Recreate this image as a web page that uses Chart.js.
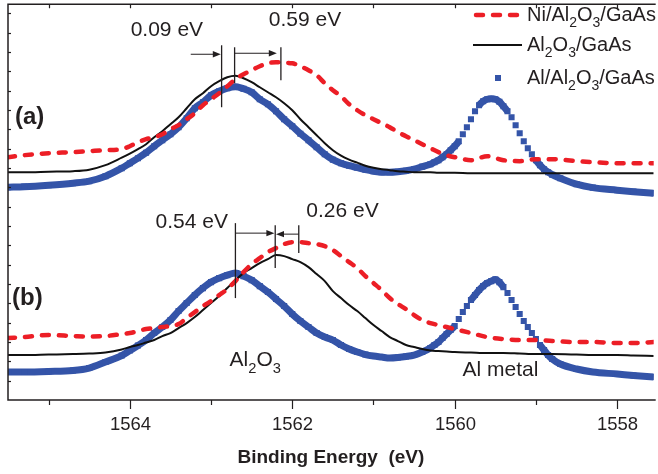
<!DOCTYPE html>
<html>
<head>
<meta charset="utf-8">
<script src="https://cdn.jsdelivr.net/npm/chart.js@4.4.1/dist/chart.umd.min.js"></script>
<style>
  html, body { margin: 0; padding: 0; background: #fff; }
  #wrap { width: 658px; height: 474px; position: relative; }
</style>
</head>
<body>
<div id="wrap"><canvas id="xps"></canvas></div>
<script>
// binding energy grid (eV) shared by the two line spectra
const energy = [1565.5, 1565.3, 1565.0, 1564.7, 1564.5, 1564.3, 1564.1,
  1564.0, 1563.9, 1563.8, 1563.7, 1563.6, 1563.5, 1563.4, 1563.3, 1563.2, 1563.1,
  1563.0, 1562.9, 1562.8, 1562.7, 1562.6, 1562.5, 1562.4, 1562.3, 1562.2, 1562.1,
  1562.0, 1561.9, 1561.8, 1561.7, 1561.6, 1561.5, 1561.4, 1561.3, 1561.2, 1561.1,
  1561.0, 1560.9, 1560.8, 1560.7, 1560.6, 1560.5, 1560.4, 1560.3, 1560.2, 1560.1,
  1560.0, 1559.8, 1559.6, 1559.4, 1559.2, 1559.0, 1558.8, 1558.5, 1558.3, 1558.0,
  1557.8, 1557.55];

// energy grid of the Al/Al2O3/GaAs square markers (finer across the Al metal peak)
const energyAl = [1565.5, 1565.3, 1565.0, 1564.7, 1564.5, 1564.3, 1564.1,
  1564.0, 1563.9, 1563.8, 1563.7, 1563.6, 1563.5, 1563.4, 1563.3, 1563.2, 1563.1,
  1563.0, 1562.9, 1562.8, 1562.7, 1562.6, 1562.5, 1562.4, 1562.3, 1562.2, 1562.1,
  1562.0, 1561.9, 1561.8, 1561.7, 1561.6, 1561.5, 1561.4, 1561.3, 1561.2, 1561.1,
  1561.0, 1560.9, 1560.8, 1560.7, 1560.6, 1560.5, 1560.4, 1560.3,
  1560.25, 1560.2, 1560.15, 1560.1, 1560.05, 1560.0, 1559.95, 1559.9, 1559.85, 1559.8,
  1559.75, 1559.7, 1559.65, 1559.6, 1559.55, 1559.5, 1559.45, 1559.4, 1559.35, 1559.3,
  1559.25, 1559.2, 1559.15, 1559.1, 1559.05, 1559.0, 1558.95, 1558.9, 1558.85, 1558.8,
  1558.7, 1558.5, 1558.3, 1558.0, 1557.8, 1557.55];

// (a) spectra, intensity in arbitrary offset units
const niA = [243, 245, 247, 248, 249, 250, 251, 254, 258, 261, 263, 266, 271, 275, 281, 287, 295,
  301, 307, 314, 321, 326, 330, 334, 337, 338, 337.5, 337, 334, 330, 325, 317, 310, 304, 296, 290,
  285, 281, 277, 273, 268, 264, 260, 256, 252, 248, 245, 243, 240, 244, 240, 239, 241, 241, 239,
  238, 237, 237, 237];
const oxA = [228, 228, 228.5, 229, 230.5, 235, 242.5, 246.5, 251, 256, 263, 269, 276, 283, 292, 301,
  307, 314, 319, 323, 324.5, 322, 318, 313, 308, 303, 297, 290, 281, 273, 265, 257, 250, 244.5, 240.5,
  237.5, 234.5, 232.5, 231, 230, 229, 228.5, 228, 228, 228, 227.5, 227.5, 227.5, 227, 227, 227, 227,
  227, 227, 227, 227, 227, 227, 227];
const alA = [213, 213.5, 215, 217, 219, 224, 232, 237, 242, 247.5, 254, 260, 266, 273, 282, 292, 298,
  305, 309, 312, 313.5, 311.5, 308, 301, 296, 289, 281, 274, 266.5, 260, 253, 246, 240.5, 237, 234.5,
  232.5, 230.5, 229, 228, 228, 228.5, 229.5, 231, 233.5, 236,
  238, 240, 243, 246, 250, 254, 259, 266, 273, 281, 289, 295, 299, 301, 301.5, 301, 298.5, 294, 289,
  283, 275, 267, 259, 252, 246, 240, 235, 231, 228, 225.5,
  222, 216, 212.5, 210, 208.5, 207];

// (b) spectra
const niB = [62, 63, 65, 64, 63.5, 64, 66, 67, 69, 71, 72, 73, 74, 76, 82, 88, 94, 99, 105, 111, 119,
  128, 136, 142, 148, 152, 156, 158, 158, 157, 156, 154, 150, 144, 138, 132, 124, 117, 110, 102, 96,
  91, 85, 80, 77, 75, 73, 71, 67, 63, 61, 60, 60, 59, 58, 58, 57, 57, 58];
const oxB = [45, 45, 45.5, 46, 46.5, 47.5, 50.5, 53, 55, 57.5, 60, 64, 67, 72, 77, 83, 90, 97, 104, 112,
  120, 127, 132, 137, 141, 145, 144, 141, 138, 133, 126, 119, 109, 102, 95, 89, 82, 75, 69, 63, 59,
  55, 53, 51, 49.5, 49, 48.5, 48, 47.5, 47, 47, 46.5, 46, 46, 45.5, 45, 45, 44.5, 44];
const alB = [28, 28, 28.5, 29.5, 32, 38, 44.5, 49.5, 54.5, 60, 67, 73, 80, 89, 97, 105, 112, 118, 122,
  125, 127, 124, 120, 114, 108, 101, 94, 86, 79, 73, 67, 63, 60, 55, 51, 48, 45.5, 44, 43, 42, 42.5,
  43.5, 45, 48, 52,
  55, 58, 62, 66, 70, 74, 81, 88, 94, 100, 105, 110, 114, 117, 119, 120.5, 118, 113, 107, 100, 93,
  86, 79, 73, 67, 61, 55, 50, 45, 41,
  36, 31, 28, 26, 24.5, 23];

const seriesLabels = ['Ni/Al_2O_3/GaAs', 'Al_2O_3/GaAs', 'Al/Al_2O_3/GaAs'];
const majorTicks = [1564, 1562, 1560, 1558];
const minorTicks = [1565, 1563, 1561, 1559];
const leftTicks = [19, 39, 58, 77, 97, 116, 135, 155, 174, 193, 213, 232, 251, 271, 290, 309, 329, 348, 367, 387];
const axisTitle = 'Binding Energy  (eV)';

// peak-shift markers: [energy, from, to]
const shiftLines = [
  [1562.87, 293, 355], [1562.71, 317, 353], [1562.14, 320, 353],
  [1562.70, 102, 177], [1562.21, 132, 175], [1561.92, 147, 175]
];
// arrows: [fromEnergy, toEnergy, level]
const shiftArrows = [
  [1563.25, 1562.88, 346], [1562.71, 1562.19, 347],
  [1562.70, 1562.22, 167], [1561.92, 1562.20, 166]
];
// text: [string, energy, level, align, size, bold]
const notes = [
  ['0.09 eV', 1563.544, 370, 'center', 21, false],
  ['0.59 eV', 1561.844, 380, 'center', 21, false],
  ['0.54 eV', 1563.238, 178, 'center', 21, false],
  ['0.26 eV', 1561.381, 189, 'center', 21, false],
  ['(a)', 1565.414, 283, 'left', 24, true],
  ['(b)', 1565.45, 102, 'left', 24, true],
  ['Al_2O_3', 1562.456, 40, 'center', 21, false],
  ['Al metal', 1559.436, 30, 'center', 21, false]
];

const RED = 'rgb(236,30,38)';
const BLACK = '#111111';
const BLUE = 'rgb(52,84,168)';
const INK = '#231f20';
const FONT = "'Liberation Sans', Arial, sans-serif";

const pts = (xs, ys) => xs.map((e, i) => ({ x: e, y: ys[i] }));

function drawRich(ctx, str, x, y, size, align, bold) {
  const parts = str.split(/_(\d)/);
  const fontFor = i => (bold ? 'bold ' : '') + (i % 2 ? size * 0.7 : size) + 'px ' + FONT;
  let w = 0;
  parts.forEach((p, i) => { ctx.font = fontFor(i); w += ctx.measureText(p).width; });
  let cx = align === 'center' ? x - w / 2 : x;
  ctx.textAlign = 'left';
  ctx.textBaseline = 'middle';
  parts.forEach((p, i) => {
    ctx.font = fontFor(i);
    ctx.fillText(p, cx, i % 2 ? y + size * 0.42 : y);
    cx += ctx.measureText(p).width;
  });
}

function arrow(ctx, x1, x2, y) {
  const dir = x2 > x1 ? 1 : -1;
  ctx.beginPath();
  ctx.moveTo(x1, y);
  ctx.lineTo(x2 - dir * 6, y);
  ctx.stroke();
  ctx.beginPath();
  ctx.moveTo(x2, y);
  ctx.lineTo(x2 - dir * 8, y - 3.2);
  ctx.lineTo(x2 - dir * 8, y + 3.2);
  ctx.closePath();
  ctx.fill();
}

const framePlugin = {
  id: 'frame',
  afterDraw(chart) {
    const { ctx, chartArea: { left, right, top, bottom }, scales: { x, y } } = chart;
    ctx.save();
    ctx.strokeStyle = INK;
    ctx.fillStyle = INK;

    // frame
    ctx.lineWidth = 1.5;
    ctx.beginPath();
    ctx.moveTo(right + 2, top);
    ctx.lineTo(left, top);
    ctx.lineTo(left, bottom);
    ctx.lineTo(right + 2, bottom);
    ctx.stroke();

    // ticks + tick labels
    ctx.lineWidth = 1.2;
    ctx.font = '18.5px ' + FONT;
    ctx.textAlign = 'center';
    ctx.textBaseline = 'middle';
    majorTicks.concat(minorTicks).forEach(v => {
      const px = Math.round(x.getPixelForValue(v)) + 0.5;
      const major = majorTicks.includes(v);
      ctx.beginPath();
      ctx.moveTo(px, bottom);
      ctx.lineTo(px, bottom + (major ? 9 : 5));
      ctx.moveTo(px, top);
      ctx.lineTo(px, top + 4);
      ctx.stroke();
      if (major) ctx.fillText(String(v), px, bottom + 25);
    });
    ctx.font = 'bold 19px ' + FONT;
    ctx.fillText(axisTitle, (left + right) / 2, bottom + 58);

    leftTicks.forEach(v => {
      const py = Math.round(y.getPixelForValue(v)) + 0.5;
      ctx.beginPath();
      ctx.moveTo(left, py);
      ctx.lineTo(left + 3, py);
      ctx.stroke();
    });

    // shift markers
    ctx.lineWidth = 1.3;
    shiftLines.forEach(([e, a, b]) => {
      const px = x.getPixelForValue(e);
      ctx.beginPath();
      ctx.moveTo(px, y.getPixelForValue(a));
      ctx.lineTo(px, y.getPixelForValue(b));
      ctx.stroke();
    });
    ctx.lineWidth = 1;
    shiftArrows.forEach(([a, b, lv]) => {
      arrow(ctx, x.getPixelForValue(a), x.getPixelForValue(b), y.getPixelForValue(lv));
    });

    notes.forEach(([s, e, lv, align, size, bold]) => {
      drawRich(ctx, s, x.getPixelForValue(e), y.getPixelForValue(lv), size, align, bold);
    });

    // legend
    const rows = [15, 45, 78];
    const sets = chart.data.datasets;
    rows.forEach((ry, i) => {
      const ds = sets[i];
      ctx.save();
      if (i === 2) {
        ctx.fillStyle = ds.pointBackgroundColor;
        ctx.fillRect(495, ry - 3, 6, 6);
      } else {
        ctx.strokeStyle = ds.borderColor;
        ctx.lineWidth = ds.borderWidth;
        ctx.lineCap = ds.borderCapStyle || 'butt';
        ctx.setLineDash(ds.borderDash || []);
        ctx.beginPath();
        ctx.moveTo(i === 0 ? 476 : 473, ry);
        ctx.lineTo(522, ry);
        ctx.stroke();
      }
      ctx.restore();
      drawRich(ctx, seriesLabels[i], 527, ry, 20, 'left', false);
    });
    ctx.restore();
  }
};

const steepHidden = color => ({
  borderColor: c => Math.abs(c.p1.y - c.p0.y) > 1.3 * Math.abs(c.p1.x - c.p0.x) ? 'rgba(0,0,0,0)' : color
});

const redStyle = { borderColor: RED, borderWidth: 4.5, borderDash: [7, 10], borderCapStyle: 'round',
  pointRadius: 0, cubicInterpolationMode: 'monotone' };
const blackStyle = { borderColor: BLACK, borderWidth: 2, pointRadius: 0, cubicInterpolationMode: 'monotone' };
const blueStyle = { borderColor: BLUE, borderWidth: 7, borderJoinStyle: 'round', pointStyle: 'rect',
  pointRadius: 4.3, pointBackgroundColor: BLUE, pointBorderWidth: 0, cubicInterpolationMode: 'monotone',
  segment: steepHidden(BLUE) };

new Chart(document.getElementById('xps'), {
  type: 'line',
  data: {
    datasets: [
      { label: seriesLabels[0], data: pts(energy, niA), ...redStyle },
      { label: seriesLabels[1], data: pts(energy, oxA), ...blackStyle },
      { label: seriesLabels[2], data: pts(energyAl, alA), ...blueStyle },
      { label: seriesLabels[0] + ' (b)', data: pts(energy, niB), ...redStyle },
      { label: seriesLabels[1] + ' (b)', data: pts(energy, oxB), ...blackStyle },
      { label: seriesLabels[2] + ' (b)', data: pts(energyAl, alB), ...blueStyle }
    ]
  },
  options: {
    responsive: true,
    maintainAspectRatio: false,
    animation: false,
    layout: { padding: { left: 8, top: 4, right: 0, bottom: 74 } },
    plugins: { legend: { display: false }, tooltip: { enabled: false } },
    scales: {
      x: { type: 'linear', display: false, reverse: true, min: 1557.55, max: 1565.5 },
      y: { type: 'linear', display: false, min: 0, max: 396 }
    }
  },
  plugins: [framePlugin]
});
</script>
</body>
</html>
